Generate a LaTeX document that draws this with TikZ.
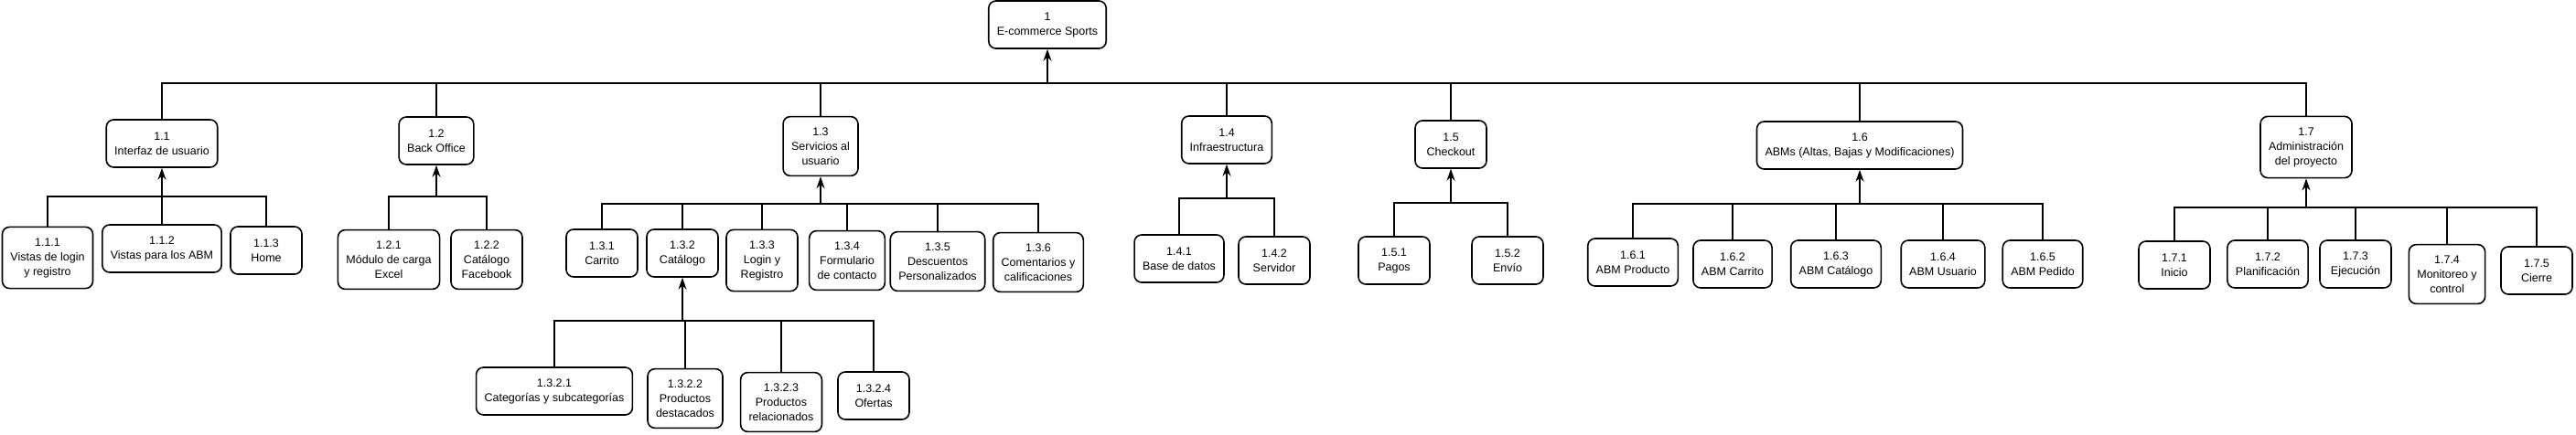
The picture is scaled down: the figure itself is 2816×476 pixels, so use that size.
\documentclass[tikz,border=0pt]{standalone}
\usepackage{fontspec}
\setmainfont{Liberation Sans}
\usetikzlibrary{arrows.meta}

\begin{document}
\begin{tikzpicture}[x=1pt, y=-1pt,
  wbs/.style={draw, line width=1.6pt, rounded corners=8pt, align=center,
    minimum width=78pt, minimum height=52pt, inner xsep=9pt, inner ysep=12pt,
    font=\fontsize{12.5}{16}\selectfont},
  link/.style={line width=1.6pt},
  up/.style={line width=1.6pt, -{Stealth[length=13pt, width=9pt]}}]

\useasboundingbox (0,0) rectangle (2816,476);

% Root
\node[wbs] (n1) at (1145,27) {1\\E-commerce Sports};

% Level 1
\node[wbs] (n11) at (177,157) {1.1\\Interfaz de usuario};
\node[wbs] (n12) at (477,154) {1.2\\Back Office};
\node[wbs] (n13) at (897,160) {1.3\\Servicios al\\usuario};
\node[wbs] (n14) at (1341,153) {1.4\\Infraestructura};
\node[wbs] (n15) at (1586,158) {1.5\\Checkout};
\node[wbs] (n16) at (2033,159) {1.6\\ABMs (Altas, Bajas y Modificaciones)};
\node[wbs] (n17) at (2521,161) {1.7\\Administración\\del proyecto};

% Level 2
\node[wbs] (n111) at (52,282) {1.1.1\\Vistas de login\\y registro};
\node[wbs] (n112) at (177,272) {1.1.2\\Vistas para los ABM};
\node[wbs] (n113) at (291,274) {1.1.3\\Home};

\node[wbs] (n121) at (425,284) {1.2.1\\Módulo de carga\\Excel};
\node[wbs] (n122) at (532,284) {1.2.2\\Catálogo\\Facebook};

\node[wbs] (n131) at (658,277) {1.3.1\\Carrito};
\node[wbs] (n132) at (746,277) {1.3.2\\Catálogo};
\node[wbs] (n133) at (833,285) {1.3.3\\Login y\\Registro};
\node[wbs] (n134) at (926,285) {1.3.4\\Formulario\\de contacto};
\node[wbs] (n135) at (1025,286) {1.3.5\\Descuentos\\Personalizados};
\node[wbs] (n136) at (1135,287) {1.3.6\\Comentarios y\\calificaciones};

\node[wbs] (n141) at (1289,283) {1.4.1\\Base de datos};
\node[wbs] (n142) at (1393,285) {1.4.2\\Servidor};

\node[wbs] (n151) at (1524,285) {1.5.1\\Pagos};
\node[wbs] (n152) at (1648,285) {1.5.2\\Envío};

\node[wbs] (n161) at (1785,287) {1.6.1\\ABM Producto};
\node[wbs] (n162) at (1894,289) {1.6.2\\ABM Carrito};
\node[wbs] (n163) at (2007,289) {1.6.3\\ABM Catálogo};
\node[wbs] (n164) at (2124,289) {1.6.4\\ABM Usuario};
\node[wbs] (n165) at (2233,289) {1.6.5\\ABM Pedido};

\node[wbs] (n171) at (2377,290) {1.7.1\\Inicio};
\node[wbs] (n172) at (2479,289) {1.7.2\\Planificación};
\node[wbs] (n173) at (2575,289) {1.7.3\\Ejecución};
\node[wbs] (n174) at (2675,300) {1.7.4\\Monitoreo y\\control};
\node[wbs] (n175) at (2773,296) {1.7.5\\Cierre};

% Level 3
\node[wbs] (n1321) at (606,428) {1.3.2.1\\Categorías y subcategorías};
\node[wbs] (n1322) at (749,436) {1.3.2.2\\Productos\\destacados};
\node[wbs] (n1323) at (854,440) {1.3.2.3\\Productos\\relacionados};
\node[wbs] (n1324) at (955,433) {1.3.2.4\\Ofertas};

% Bus points below each parent
\coordinate (b1) at (n1 |- 0,91);
\coordinate (b11) at (n11 |- 0,215);
\coordinate (b12) at (n12 |- 0,215);
\coordinate (b13) at (n13 |- 0,223);
\coordinate (b14) at (n14 |- 0,217);
\coordinate (b15) at (n15 |- 0,222);
\coordinate (b16) at (n16 |- 0,223);
\coordinate (b17) at (n17 |- 0,227);
\coordinate (b132) at (n132 |- 0,351);

% Connectors
\foreach \c in {n11,n12,n13,n14,n15,n16,n17} \draw[link] (\c.north) |- (b1);
\draw[up] (b1) -- (n1.south);

\foreach \c in {n111,n112,n113} \draw[link] (\c.north) |- (b11);
\draw[up] (b11) -- (n11.south);
\foreach \c in {n121,n122} \draw[link] (\c.north) |- (b12);
\draw[up] (b12) -- (n12.south);
\foreach \c in {n131,n132,n133,n134,n135,n136} \draw[link] (\c.north) |- (b13);
\draw[up] (b13) -- (n13.south);
\foreach \c in {n141,n142} \draw[link] (\c.north) |- (b14);
\draw[up] (b14) -- (n14.south);
\foreach \c in {n151,n152} \draw[link] (\c.north) |- (b15);
\draw[up] (b15) -- (n15.south);
\foreach \c in {n161,n162,n163,n164,n165} \draw[link] (\c.north) |- (b16);
\draw[up] (b16) -- (n16.south);
\foreach \c in {n171,n172,n173,n174,n175} \draw[link] (\c.north) |- (b17);
\draw[up] (b17) -- (n17.south);

\foreach \c in {n1321,n1322,n1323,n1324} \draw[link] (\c.north) |- (b132);
\draw[up] (b132) -- (n132.south);

\end{tikzpicture}
\end{document}
